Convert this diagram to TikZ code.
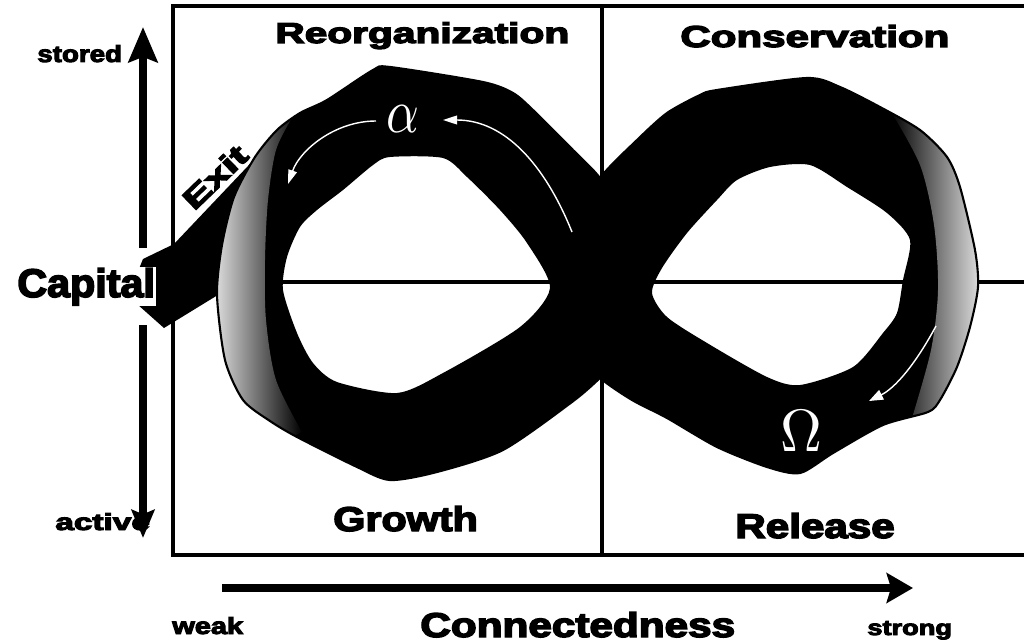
\documentclass[tikz,border=0pt]{standalone}
\usepackage{fontspec}
\usepackage{graphicx}
\newfontfamily\heavy{Liberation Sans}[UprightFont={* Bold}, FakeBold=4]
\usetikzlibrary{arrows.meta}
\newdimen\pxu \pxu=0.5669pt
\newcommand\fitlbl[3]{\resizebox{#1\pxu}{#2\pxu}{\heavy #3}}
\tikzset{
  boxline/.style={line width=2pt, line cap=round},
  axisline/.style={line width=4pt},
  thinwhite/.style={white, line width=0.8pt},
  lbl/.style={anchor=base west, inner sep=0pt},
}
\begin{document}
\begin{tikzpicture}[x=0.02cm, y=-0.02cm]
\useasboundingbox (0,0) rectangle (1024,642);
% frame and quadrant lines
\coordinate (tl) at (173,6); \coordinate (tr) at (1030,6);
\coordinate (bl) at (173,555); \coordinate (br) at (1030,555);
\coordinate (ml) at (173,282); \coordinate (mr) at (1030,282);
\coordinate (vt) at (602,6); \coordinate (vb) at (602,555);
\draw[boxline] (tr) -- (tl) -- (bl) -- (br);
\draw[boxline] (ml) -- (mr);
\draw[boxline] (vt) -- (vb);
% exit arrow
\fill (285,127) -- (174,244) -- (143,259) -- (128,296) -- (164,328) -- (226,290) -- cycle;
% left loop ring
\fill[even odd rule]
  plot[smooth cycle, tension=0.45] coordinates {(390,67) (483,82) (513,93) (533,110) (573,150) (600,178) (628,222) (645,287) (628,350) (600,378) (572,402) (503,450) (437,472) (390,480) (357,467) (297,437) (270,421) (243,400) (225,360) (217,295) (222,245) (234,197) (255,157) (277,130) (300,113) (327,100) (373,70)}
  plot[smooth cycle, tension=0.45] coordinates {(300,227) (317,210) (343,190) (373,165) (390,157) (443,158) (467,177) (500,210) (527,243) (550,288) (520,327) (443,373) (397,393) (337,382) (313,363) (297,333) (283,290) (287,257)};
% right loop ring
\fill[even odd rule]
  plot[smooth cycle, tension=0.45] coordinates {(600,178) (637,140) (667,113) (700,95) (717,90) (807,78) (840,87) (880,107) (920,130) (947,157) (960,187) (975,250) (978,287) (970,327) (957,367) (940,400) (928,412) (883,425) (833,453) (800,473) (767,467) (717,447) (667,418) (632,400) (600,378) (572,348) (558,290) (572,228)}
  plot[smooth cycle, tension=0.45] coordinates {(652,293) (662,268) (687,233) (717,200) (737,180) (770,167) (810,165) (847,187) (887,213) (910,240) (903,280) (897,313) (883,333) (853,367) (800,385) (767,377) (707,343) (667,317)};
% grey shading on the left loop
\begin{scope}
\clip plot[smooth cycle, tension=0.45] coordinates {(390,67) (483,82) (513,93) (533,110) (573,150) (600,178) (628,222) (645,287) (628,350) (600,378) (572,402) (503,450) (437,472) (390,480) (357,467) (297,437) (270,421) (243,400) (225,360) (217,295) (222,245) (234,197) (255,157) (277,130) (300,113) (327,100) (373,70)};
\shade[left color=gray!6, middle color=gray!28, right color=black]
  (205,80) -- plot[smooth] coordinates {(292,118) (276,150) (268,200) (265,260) (266,320) (276,380) (302,432)} -- (205,480) -- cycle;
\end{scope}
% grey shading on the right loop
\begin{scope}
\clip plot[smooth cycle, tension=0.45] coordinates {(600,178) (637,140) (667,113) (700,95) (717,90) (807,78) (840,87) (880,107) (920,130) (947,157) (960,187) (975,250) (978,287) (970,327) (957,367) (940,400) (928,412) (883,425) (833,453) (800,473) (767,467) (717,447) (667,418) (632,400) (600,378) (572,348) (558,290) (572,228)};
\shade[left color=black, middle color=gray!28, right color=gray!6]
  (990,80) -- plot[smooth] coordinates {(890,110) (920,165) (934,225) (938,290) (931,350) (912,418)} -- (990,460) -- cycle;
\end{scope}
% outlines
\draw[line width=1.2pt] plot[smooth cycle, tension=0.45] coordinates {(390,67) (483,82) (513,93) (533,110) (573,150) (600,178) (628,222) (645,287) (628,350) (600,378) (572,402) (503,450) (437,472) (390,480) (357,467) (297,437) (270,421) (243,400) (225,360) (217,295) (222,245) (234,197) (255,157) (277,130) (300,113) (327,100) (373,70)};
\draw[line width=1.2pt] plot[smooth cycle, tension=0.45] coordinates {(600,178) (637,140) (667,113) (700,95) (717,90) (807,78) (840,87) (880,107) (920,130) (947,157) (960,187) (975,250) (978,287) (970,327) (957,367) (940,400) (928,412) (883,425) (833,453) (800,473) (767,467) (717,447) (667,418) (632,400) (600,378) (572,348) (558,290) (572,228)};
% alpha and omega
\node[text=white, inner sep=0pt] (alpha) at (403,119) {\resizebox{33\pxu}{27\pxu}{$\alpha$}};
\coordinate (a1) at (572,232); \coordinate (a2) at (443,120);
\coordinate (a3) at (376,121); \coordinate (a4) at (288,184);
\draw[thinwhite, -{Triangle[length=8pt,width=5pt]}] (a1) .. controls (545,165) and (505,120) .. (a2);
\draw[thinwhite, -{Triangle[length=8pt,width=5pt]}] (a3) .. controls (335,121) and (300,150) .. (a4);
\node[text=white, inner sep=0pt] (omega) at (801,431) {\resizebox{42\pxu}{41\pxu}{$\Omega$}};
\coordinate (o1) at (936,326); \coordinate (o2) at (869,401);
\draw[thinwhite, -{Triangle[length=8pt,width=6pt]}] (o1) .. controls (915,365) and (895,388) .. (o2);
% quadrant labels
\node[lbl] (reorg) at (275,43) {\fitlbl{295}{21}{Reorganization}};
\node[lbl] (cons) at (680,47) {\fitlbl{270}{22}{Conservation}};
\node[lbl] (growth) at (333,531) {\fitlbl{145}{25}{Growth}};
\node[lbl] (release) at (735,538) {\fitlbl{160}{25}{Release}};
% exit label
\node[inner sep=0pt, rotate=44] (exit) at (215,177) {\fitlbl{78}{21}{Exit}};
% capital axis
\node[lbl] (stored) at (37,62) {\fitlbl{85}{17}{stored}};
\node[lbl] (active) at (55,530) {\fitlbl{95}{17}{active}};
\coordinate (cu0) at (143,248); \coordinate (cu1) at (143,27);
\coordinate (cd0) at (143,325); \coordinate (cd1) at (143,538);
\draw[axisline, -{Stealth[length=20pt,width=16.5pt,inset=3pt]}] (cu0) -- (cu1);
\draw[axisline, -{Stealth[length=16pt,width=13pt,inset=2.5pt]}] (cd0) -- (cd1);
\node[anchor=base west, fill=white, inner sep=0.6pt] (capital) at (16,297) {\fitlbl{138}{29}{Capital}};
% connectedness axis
\coordinate (h0) at (222,588); \coordinate (h1) at (913,588);
\draw[axisline, -{Stealth[length=15pt,width=17pt,inset=2.5pt]}] (h0) -- (h1);
\node[lbl] (weak) at (172,634) {\fitlbl{71}{17}{weak}};
\node[lbl] (conn) at (420,637) {\fitlbl{316}{25}{Connectedness}};
\node[lbl] (strong) at (867,635) {\fitlbl{85}{14}{strong}};
\end{tikzpicture}
\end{document}
